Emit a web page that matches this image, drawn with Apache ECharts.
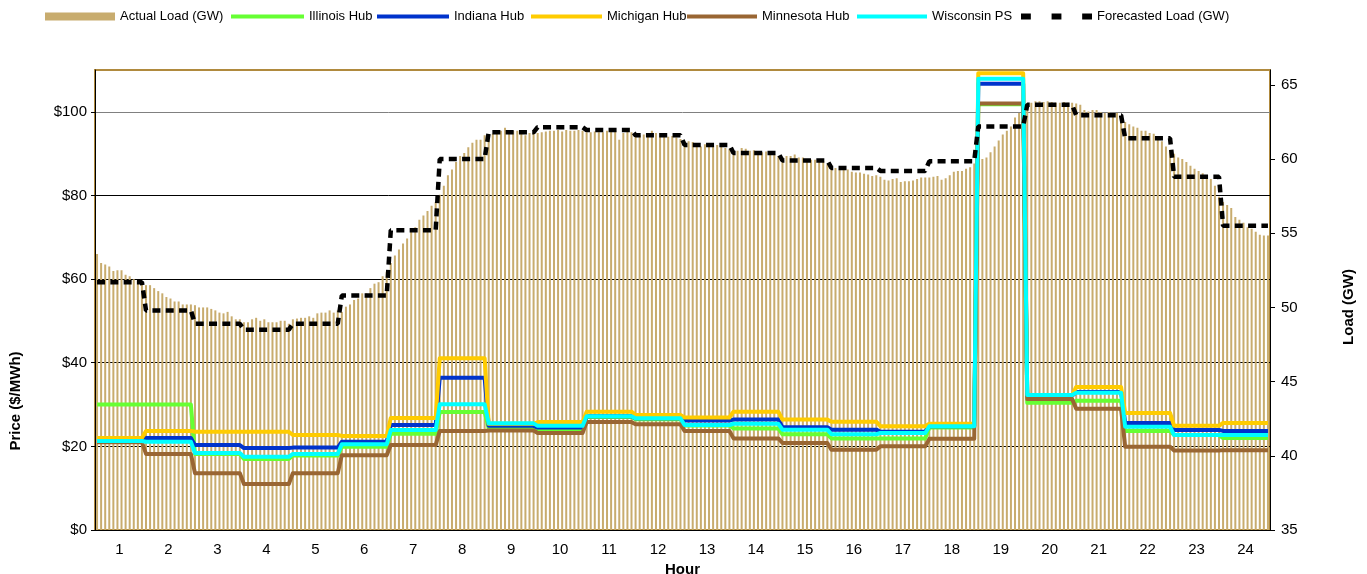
<!DOCTYPE html>
<html>
<head>
<meta charset="utf-8">
<title>Load and hub prices</title>
<script src="https://cdn.jsdelivr.net/npm/echarts/dist/echarts.min.js"></script>
<style>
  html, body { margin: 0; padding: 0; background: #fff; }
  #main { width: 1367px; height: 574px; }
</style>
</head>
<body>
<div id="main"></div>
<script>
// hour labels on the x axis
const hours = ["1", "2", "3", "4", "5", "6", "7", "8", "9", "10", "11", "12",
  "13", "14", "15", "16", "17", "18", "19", "20", "21", "22", "23", "24"];

// actual load, 5-minute readings (GW), one row per hour
const actualLoad = [
  53.6, 53.0, 52.9, 52.75, 52.45, 52.5, 52.5, 52.2, 52.1, 51.9, 51.8, 51.7,
  51.5, 51.5, 51.3, 51.1, 50.95, 50.7, 50.6, 50.4, 50.4, 50.2, 50.2, 50.2,
  50.15, 50.0, 50.0, 50.0, 49.9, 49.8, 49.65, 49.6, 49.7, 49.4, 49.2, 49.2,
  49.0, 49.0, 49.2, 49.3, 49.1, 49.2, 49.0, 49.0, 49.0, 49.1, 49.1, 48.9,
  49.2, 49.25, 49.3, 49.3, 49.4, 49.3, 49.6, 49.65, 49.65, 49.8, 49.65, 49.8,
  49.7, 50.05, 50.2, 50.5, 50.6, 50.95, 50.95, 51.3, 51.6, 51.7, 52.1, 52.4,
  53.0, 53.5, 53.9, 54.3, 54.65, 55.1, 55.4, 55.9, 56.2, 56.5, 56.85, 57.1,
  57.6, 58.2, 58.9, 59.3, 59.8, 60.2, 60.4, 60.8, 61.1, 61.3, 61.3, 61.6,
  61.6, 61.7, 61.75, 61.9, 62.1, 61.95, 61.9, 61.9, 61.85, 61.6, 61.75, 61.8,
  61.75, 61.8, 61.85, 61.9, 61.9, 61.95, 61.85, 61.95, 61.9, 61.9, 61.95, 61.9,
  61.8, 61.8, 61.85, 61.8, 61.8, 61.9, 61.85, 61.9, 61.3, 61.75, 61.9, 61.8,
  61.7, 61.6, 61.65, 61.65, 61.9, 61.75, 61.75, 61.75, 61.5, 61.55, 61.45, 61.35,
  61.2, 61.2, 61.15, 60.95, 60.85, 61.0, 60.95, 60.9, 60.95, 60.85, 60.75, 60.7,
  60.5, 60.55, 60.75, 60.7, 60.55, 60.6, 60.5, 60.45, 60.5, 60.5, 60.3, 60.2,
  60.1, 60.2, 60.2, 60.3, 60.1, 60.1, 60.0, 59.95, 59.95, 59.95, 59.85, 59.65,
  59.55, 59.4, 59.3, 59.3, 59.3, 59.15, 59.1, 59.1, 59.0, 58.95, 58.85, 58.9,
  58.8, 58.6, 58.55, 58.65, 58.7, 58.45, 58.5, 58.5, 58.55, 58.65, 58.75, 58.75,
  58.75, 58.8, 58.85, 58.6, 58.7, 58.9, 59.15, 59.2, 59.2, 59.35, 59.45, 59.7,
  59.95, 60.0, 60.1, 60.45, 60.85, 61.25, 61.65, 61.9, 62.2, 62.8, 63.1, 63.4,
  63.6, 63.8, 63.9, 63.9, 63.85, 63.9, 63.85, 63.8, 63.8, 63.85, 63.8, 63.8,
  63.75, 63.65, 63.3, 63.2, 63.3, 63.3, 63.15, 63.1, 63.15, 63.05, 63.1, 62.8,
  62.5, 62.35, 62.2, 62.1, 61.9, 61.9, 61.75, 61.7, 61.35, 61.2, 60.85, 60.6,
  60.35, 60.1, 60.0, 59.8, 59.55, 59.35, 59.2, 59.05, 58.8, 58.65, 58.2, 57.45,
  57.1, 56.9, 56.7, 56.1, 55.9, 55.7, 55.4, 55.3, 55.1, 54.9, 54.85, 54.85
];

// hourly prices ($/MWh)
const illinoisHub = [30.0, 30.0, 18.2, 17.0, 17.8, 19.9, 23.0, 28.2, 24.3, 24.0, 27.0, 26.5,
  25.0, 24.3, 22.9, 21.9, 21.9, 24.5, 101.8, 30.4, 30.9, 23.7, 22.7, 22.0];
const indianaHub = [21.3, 22.0, 20.3, 19.6, 19.7, 21.1, 25.1, 36.4, 24.9, 24.5, 27.2, 26.7,
  26.2, 26.4, 24.6, 24.0, 23.5, 24.8, 106.7, 32.1, 33.0, 25.6, 23.9, 23.7];
const michiganHub = [22.0, 23.7, 23.5, 23.5, 22.7, 22.5, 26.8, 41.1, 25.4, 25.8, 28.3, 27.5,
  26.9, 28.3, 26.4, 25.9, 24.8, 25.4, 109.2, 32.2, 34.2, 28.0, 24.9, 25.6];
const minnesotaHub = [21.0, 18.2, 13.6, 11.0, 13.6, 17.9, 20.3, 23.7, 23.8, 23.2, 25.8, 25.3,
  23.7, 21.9, 20.8, 19.2, 20.0, 21.8, 102.0, 31.3, 29.0, 19.9, 19.0, 19.1];
const wisconsinPS = [21.3, 21.1, 18.4, 17.5, 18.2, 20.5, 23.9, 30.1, 25.5, 24.9, 27.2, 26.7,
  25.1, 25.4, 24.0, 22.9, 23.2, 24.8, 107.9, 32.3, 32.8, 24.7, 22.7, 22.7];

// hourly forecast (GW)
const forecastLoad = [51.7, 49.8, 48.9, 48.5, 48.9, 50.8, 55.2, 60.0, 61.8, 62.15, 61.95, 61.6,
  60.95, 60.4, 59.9, 59.4, 59.2, 59.85, 62.2, 63.65, 62.95, 61.4, 58.8, 55.5];

const perHour = 12;
const intervals = actualLoad.map((v, i) => i);
// an hourly value holds for each of its twelve 5-minute slots
const toSlots = arr => arr.flatMap(v => Array(perHour).fill(v));

const font = "'Liberation Sans', Arial, sans-serif";
const legendText = { fontSize: 13, color: "#000", fontFamily: font };

function priceLine(name, data, color) {
  return {
    name: name,
    type: "line",
    xAxisIndex: 0,
    yAxisIndex: 0,
    data: toSlots(data),
    symbol: "none",
    lineStyle: { width: 4, color: color, join: "round" },
    itemStyle: { color: color },
  };
}

function legendAt(left, name, width, extra) {
  return Object.assign({
    left: left,
    top: 10,
    padding: 0,
    icon: "rect",
    itemWidth: width,
    itemHeight: 4,
    data: [name],
    textStyle: legendText,
  }, extra || {});
}

const myChart = echarts.init(document.getElementById("main"));
const option = {
  animation: false,
  backgroundColor: "#fff",
  textStyle: { fontFamily: font, color: "#000" },
  legend: [
    legendAt(45, "Actual Load (GW)", 70, { itemHeight: 8 }),
    legendAt(231, "Illinois Hub", 73),
    legendAt(377, "Indiana Hub", 72),
    legendAt(531, "Michigan Hub", 71),
    legendAt(687, "Minnesota Hub", 70),
    legendAt(857, "Wisconsin PS", 70),
    legendAt(1021, "Forecasted Load (GW)", 71, {
      icon: "path://M0,0h9v6h-9z M28,0h9v6h-9z M56,0h9v6h-9z",
      itemHeight: 6,
      symbolKeepAspect: false,
    }),
  ],
  grid: {
    left: 95,
    right: 97,
    top: 70,
    bottom: 44,
    outerBoundsMode: "none",
    show: true,
    borderColor: "#b08a3e",
    borderWidth: 2,
  },
  xAxis: [
    {
      type: "category",
      data: intervals,
      axisLine: { lineStyle: { color: "#000" } },
      axisTick: { interval: 0, length: 4, lineStyle: { color: "#444" } },
      axisLabel: { show: false },
      splitLine: { show: false },
    },
    {
      type: "category",
      data: hours,
      position: "bottom",
      axisLine: { show: false },
      axisTick: { show: false },
      axisLabel: { fontSize: 15, margin: 12, color: "#000" },
      name: "Hour",
      nameLocation: "middle",
      nameGap: 31,
      nameTextStyle: { fontWeight: "bold", fontSize: 15, color: "#000" },
    },
  ],
  yAxis: [
    {
      type: "value",
      position: "left",
      min: 0,
      max: 110,
      interval: 20,
      axisLine: { show: true, lineStyle: { color: "#000" } },
      axisTick: { show: true, length: 4 },
      axisLabel: { formatter: "${value}", fontSize: 15, margin: 8, color: "#000", showMaxLabel: false },
      splitLine: {
        show: true,
        lineStyle: { color: ["#000", "#000", "#000", "#000", "#000", "#808080", "#b08a3e"], width: 1 },
      },
    },
    {
      type: "value",
      position: "right",
      min: 35,
      max: 66,
      interval: 5,
      axisLine: { show: true, lineStyle: { color: "#000" } },
      axisTick: { show: true, length: 5 },
      axisLabel: { fontSize: 15, margin: 11, color: "#000", showMaxLabel: false },
      splitLine: { show: false },
    },
  ],
  graphic: [
    {
      type: "text",
      x: 16,
      y: 401,
      rotation: Math.PI / 2,
      style: { text: "Price ($/MWh)", fill: "#000", font: "bold 15px " + font, align: "center", verticalAlign: "middle" },
    },
    {
      type: "text",
      x: 1349,
      y: 307,
      rotation: Math.PI / 2,
      style: { text: "Load (GW)", fill: "#000", font: "bold 15px " + font, align: "center", verticalAlign: "middle" },
    },
  ],
  series: [
    {
      name: "Actual Load (GW)",
      type: "bar",
      xAxisIndex: 0,
      yAxisIndex: 1,
      data: actualLoad,
      barWidth: 2,
      itemStyle: { color: "#c8ac6e" },
    },
    priceLine("Illinois Hub", illinoisHub, "#66ff33"),
    priceLine("Indiana Hub", indianaHub, "#0033cc"),
    priceLine("Michigan Hub", michiganHub, "#ffcc00"),
    priceLine("Minnesota Hub", minnesotaHub, "#996633"),
    priceLine("Wisconsin PS", wisconsinPS, "#00ffff"),
    {
      name: "Forecasted Load (GW)",
      type: "line",
      xAxisIndex: 0,
      yAxisIndex: 1,
      data: toSlots(forecastLoad),
      symbol: "none",
      lineStyle: { width: 4.5, color: "#000", type: [8, 5.3] },
      itemStyle: { color: "#000" },
    },
  ],
};
myChart.setOption(option);
</script>
</body>
</html>
